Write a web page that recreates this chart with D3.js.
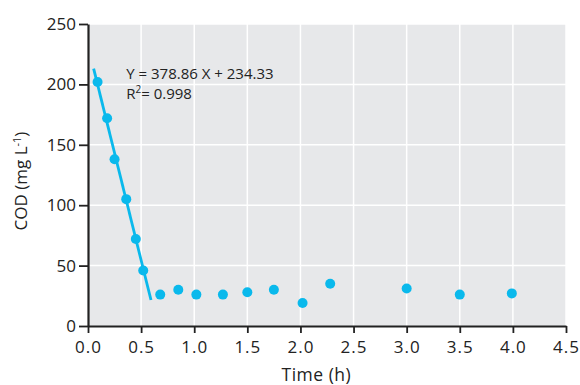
<!DOCTYPE html>
<html><head><meta charset="utf-8">
<script src="https://cdn.jsdelivr.net/npm/d3@7"></script>
<style>html,body{margin:0;padding:0;background:#fff;} svg{display:block;}</style>
</head><body>
<svg id="c" width="580" height="385"></svg>
<script>
// Data
const timeH = [0.09, 0.18, 0.25, 0.36, 0.45, 0.52, 0.68, 0.85, 1.02, 1.27, 1.50, 1.75, 2.02, 2.28, 3.00, 3.50, 3.99];
const codVals = [202, 172, 138, 105, 72, 46, 26, 30, 26, 26, 28, 30, 19, 35, 31, 26, 27];
const fitX = [0.053, 0.593];
const fitY = [213, 21.5];
const xTicks = [0, 0.5, 1, 1.5, 2, 2.5, 3, 3.5, 4, 4.5];
const yTicks = [0, 50, 100, 150, 200, 250];
const eqText = "Y = 378.86 X + 234.33";
const r2Value = "0.998";

const FONT = "'Open Sans', sans-serif";
const svg = d3.select("#c");
const m = {l: 88, r: 14, t: 24, b: 59};
const W = 580 - m.l - m.r, H = 385 - m.t - m.b;
const x = d3.scaleLinear().domain([0, 4.5]).range([0, W]);
const y = d3.scaleLinear().domain([0, 250]).range([H, 0]);
const g = svg.append("g").attr("transform", `translate(${m.l},${m.t})`);

g.append("rect").attr("width", W).attr("height", H).attr("fill", "#e7e8ea");
g.selectAll(".gx").data(xTicks.slice(1)).join("line")
  .attr("x1", d => x(d)).attr("x2", d => x(d)).attr("y1", 0).attr("y2", H)
  .attr("stroke", "#fff").attr("stroke-width", 1.5);
g.selectAll(".gy").data(yTicks.slice(1)).join("line")
  .attr("y1", d => y(d)).attr("y2", d => y(d)).attr("x1", 0).attr("x2", W)
  .attr("stroke", "#fff").attr("stroke-width", 1.5);

const xAxis = g.append("g").attr("transform", `translate(0,${H})`)
  .call(d3.axisBottom(x).tickValues(xTicks).tickFormat(d3.format(".1f")).tickSize(7).tickSizeOuter(0).tickPadding(8));
const yAxis = g.append("g")
  .call(d3.axisLeft(y).tickValues(yTicks).tickFormat(d3.format("d")).tickSize(9).tickSizeOuter(0).tickPadding(3));
[xAxis, yAxis].forEach(a => {
  a.select(".domain").attr("stroke", "#222").attr("stroke-width", 2.2);
  a.selectAll(".tick line").attr("stroke", "#222").attr("stroke-width", 1.8);
  a.selectAll("text").attr("font-family", FONT).attr("font-size", 17).attr("fill", "#222");
});
xAxis.selectAll("text").attr("letter-spacing", 1);

const line = d3.line().x(d => x(d[0])).y(d => y(d[1]));
g.append("path").datum(fitX.map((v, i) => [v, fitY[i]]))
  .attr("d", line).attr("fill", "none").attr("stroke", "#0ab9ec").attr("stroke-width", 2.8);

g.selectAll(".pt").data(timeH.map((v, i) => [v, codVals[i]])).join("circle")
  .attr("cx", d => x(d[0])).attr("cy", d => y(d[1])).attr("r", 5)
  .attr("fill", "#0ab9ec");

g.append("text").attr("x", x(0.36)).attr("y", y(204.5))
  .attr("font-family", FONT).attr("font-size", 15).attr("fill", "#222").text(eqText);
const r2 = g.append("text").attr("x", x(0.36)).attr("y", y(188))
  .attr("font-family", FONT).attr("font-size", 15).attr("fill", "#222");
r2.append("tspan").text("R");
r2.append("tspan").attr("dy", -6).attr("font-size", 10).text("2");
r2.append("tspan").attr("dy", 6).text("= " + r2Value);

svg.append("text").attr("x", m.l + x(2.15)).attr("y", 381).attr("text-anchor", "middle")
  .attr("font-family", FONT).attr("font-size", 17.5).attr("letter-spacing", 0.5).attr("fill", "#222").text("Time (h)");
const yt = svg.append("text").attr("transform", `translate(27,${m.t + y(120)}) rotate(-90)`)
  .attr("text-anchor", "middle").attr("font-family", FONT).attr("font-size", 17).attr("fill", "#222");
yt.append("tspan").text("COD (mg L");
yt.append("tspan").attr("dy", -6).attr("font-size", 11).text("-1");
yt.append("tspan").attr("dy", 6).text(")");
</script>
</body></html>
